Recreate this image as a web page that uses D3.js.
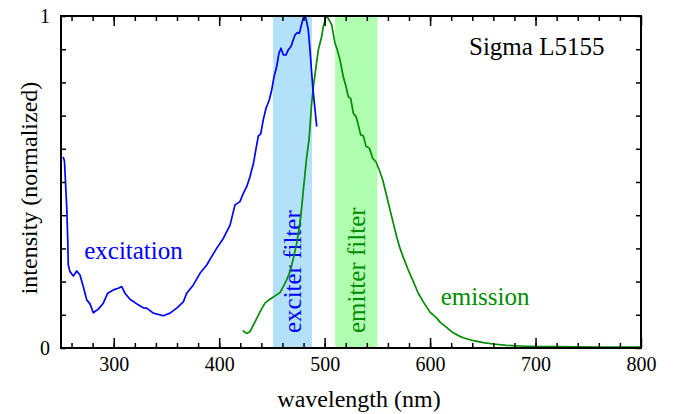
<!DOCTYPE html>
<html>
<head>
<meta charset="utf-8">
<script src="https://cdn.jsdelivr.net/npm/d3@7"></script>
<style>
  html, body { margin: 0; padding: 0; background: #fff; }
  svg { display: block; }
  text { font-family: "Liberation Serif", "Times New Roman", serif; }
</style>
</head>
<body>
<svg id="chart" width="673" height="414"></svg>
<script>
// Excitation spectrum (blue)
const excitationNm = [251.5, 252.5, 253.3, 255.4, 256.4, 256.9, 258.5, 261.7, 264.9, 268.0,
  271.1, 274.4, 277.5, 280.6, 285.4, 290.1, 294.3, 299.6, 304.3, 307.6, 310.7, 315.4,
  323.3, 328.0, 331.3, 337.5, 347.0, 353.4, 359.7, 366.0, 369.2, 375.5, 381.8, 388.2,
  391.3, 397.6, 403.9, 410.3, 415.0, 419.7, 422.9, 426.1, 429.2, 430.8, 432.5, 434.9,
  437.1, 439.4, 441.8, 444.4, 447.5, 449.8, 452.0, 454.5, 456.7, 458.6, 460.8, 463.4,
  465.5, 468.1, 469.7, 471.9, 474.1, 476.0, 477.6, 479.2, 480.4, 482.3, 484.5, 486.1,
  488.7, 490.9, 492.5];
const excitationVal = [0.575, 0.572, 0.562, 0.426, 0.325, 0.250, 0.230, 0.217, 0.232, 0.220,
  0.185, 0.145, 0.133, 0.106, 0.117, 0.135, 0.165, 0.175, 0.180, 0.185, 0.165, 0.147,
  0.130, 0.121, 0.120, 0.105, 0.097, 0.105, 0.120, 0.139, 0.165, 0.190, 0.225, 0.250,
  0.267, 0.300, 0.330, 0.370, 0.431, 0.441, 0.466, 0.486, 0.516, 0.536, 0.556, 0.600,
  0.638, 0.645, 0.687, 0.722, 0.747, 0.777, 0.817, 0.847, 0.888, 0.903, 0.883, 0.883,
  0.898, 0.908, 0.923, 0.943, 0.950, 0.948, 0.968, 0.988, 1.000, 0.993, 0.958, 0.898,
  0.787, 0.717, 0.667];

// Emission spectrum (green)
const emissionNm = [422.3, 426.1, 429.2, 434.0, 438.7, 443.4, 448.2, 452.9, 457.7, 460.8,
  464.0, 467.2, 470.3, 473.5, 476.6, 478.3, 479.8, 481.4, 483.0, 485.2, 486.1, 487.7,
  489.3, 491.8, 494.0, 495.6, 497.2, 498.7, 499.7, 501.3, 503.5, 506.7, 509.8, 512.0,
  514.6, 517.7, 520.3, 522.4, 524.7, 527.2, 529.8, 531.9, 534.2, 536.7, 539.2, 542.4,
  545.6, 548.7, 551.8, 555.1, 558.2, 562.0, 565.1, 568.3, 571.5, 574.6, 579.3, 584.1,
  588.8, 593.6, 599.9, 606.3, 609.4, 615.7, 618.9, 622.0, 628.4, 631.5, 641.0, 650.5,
  659.9, 672.6, 685.3, 701.1, 720.0, 760.0, 800.0];
const emissionVal = [0.052, 0.044, 0.049, 0.079, 0.109, 0.135, 0.147, 0.157, 0.167, 0.185,
  0.205, 0.230, 0.270, 0.315, 0.376, 0.426, 0.476, 0.526, 0.576, 0.627, 0.667, 0.737,
  0.787, 0.847, 0.898, 0.918, 0.938, 0.968, 0.978, 1.000, 0.993, 0.973, 0.918, 0.898,
  0.867, 0.817, 0.787, 0.757, 0.752, 0.707, 0.697, 0.672, 0.642, 0.639, 0.608, 0.602,
  0.571, 0.561, 0.536, 0.506, 0.466, 0.416, 0.376, 0.335, 0.300, 0.273, 0.235, 0.200,
  0.165, 0.139, 0.108, 0.090, 0.078, 0.062, 0.053, 0.046, 0.035, 0.031, 0.022, 0.016,
  0.012, 0.008, 0.006, 0.004, 0.004, 0.003, 0.003];

// Filter pass bands (nm)
const exciterBand = [451, 488];
const emitterBand = [510, 550];

// Axis ticks
const xMajorTicks = [300, 400, 500, 600, 700, 800];
const xMinorTicks = d3.range(260, 800, 20);
const yMinorTicks = d3.range(0, 1.0001, 0.1);
const yLabelTicks = [0, 1];

const BLUE = "#0000ff";
const GREEN = "#008c00";

const svg = d3.select("#chart");
const L = 61, R = 641, T = 16, B = 348;

const x = d3.scaleLinear().domain([250, 800]).range([L, R]);
const y = d3.scaleLinear().domain([0, 1]).range([B, T]);

// filter bands
const bands = [
  { range: exciterBand, fill: "#b4e1fa" },
  { range: emitterBand, fill: "#b0ffb0" }
];
svg.selectAll("rect.band").data(bands).join("rect")
  .attr("class", "band")
  .attr("x", d => x(d.range[0]))
  .attr("width", d => x(d.range[1]) - x(d.range[0]))
  .attr("y", T)
  .attr("height", B - T)
  .attr("fill", d => d.fill);

// band labels
const bandLabels = [
  { text: "exciter filter", nm: 477.5, color: BLUE },
  { text: "emitter filter", nm: 538.5, color: GREEN }
];
svg.selectAll("text.bandlabel").data(bandLabels).join("text")
  .attr("class", "bandlabel")
  .attr("transform", d => `translate(${x(d.nm)},${y(0.045)}) rotate(-90)`)
  .attr("font-size", 25)
  .attr("fill", d => d.color)
  .text(d => d.text);

// spectra
const line = d3.line().x(d => x(d[0])).y(d => y(d[1]));
const excitation = excitationNm.map((n, i) => [n, excitationVal[i]]);
const emission = emissionNm.map((n, i) => [n, emissionVal[i]]);

svg.append("path").datum(emission)
  .attr("d", line).attr("fill", "none")
  .attr("stroke", GREEN).attr("stroke-width", 1.7)
  .attr("stroke-linejoin", "round");
svg.append("path").datum(excitation)
  .attr("d", line).attr("fill", "none")
  .attr("stroke", BLUE).attr("stroke-width", 1.7)
  .attr("stroke-linejoin", "round");

// curve labels
svg.append("text").attr("x", x(272)).attr("y", 259)
  .attr("font-size", 25).attr("fill", BLUE).text("excitation");
svg.append("text").attr("x", x(610)).attr("y", 305)
  .attr("font-size", 25).attr("fill", GREEN).text("emission");
svg.append("text").attr("x", 469).attr("y", 55)
  .attr("font-size", 25).attr("fill", "#000").text("Sigma L5155");

// axes: ticks point inward on all four sides
function styleAxis(g) {
  g.select(".domain").remove();
  g.selectAll(".tick line").attr("stroke", "#000").attr("stroke-width", 1.5);
  g.selectAll(".tick text").attr("font-family", "Liberation Serif, serif")
    .attr("font-size", 20).attr("fill", "#000");
}
const fmtNone = () => "";

svg.append("g").attr("transform", `translate(0,${B})`)
  .call(d3.axisBottom(x).tickValues(xMinorTicks).tickSize(-5).tickFormat(fmtNone))
  .call(styleAxis);
svg.append("g").attr("transform", `translate(0,${B})`)
  .call(d3.axisBottom(x).tickValues(xMajorTicks).tickSize(-10).tickPadding(9).tickFormat(d3.format("d")))
  .call(styleAxis);
svg.append("g").attr("transform", `translate(0,${T})`)
  .call(d3.axisTop(x).tickValues(xMinorTicks).tickSize(-5).tickFormat(fmtNone))
  .call(styleAxis);
svg.append("g").attr("transform", `translate(0,${T})`)
  .call(d3.axisTop(x).tickValues(xMajorTicks).tickSize(-10).tickFormat(fmtNone))
  .call(styleAxis);
svg.append("g").attr("transform", `translate(${L},0)`)
  .call(d3.axisLeft(y).tickValues(yMinorTicks).tickSize(-5).tickFormat(fmtNone))
  .call(styleAxis);
svg.append("g").attr("transform", `translate(${L},0)`)
  .call(d3.axisLeft(y).tickValues(yLabelTicks).tickSize(0).tickPadding(11).tickFormat(d3.format("d")))
  .call(styleAxis);
svg.append("g").attr("transform", `translate(${R},0)`)
  .call(d3.axisRight(y).tickValues(yMinorTicks).tickSize(-5).tickFormat(fmtNone))
  .call(styleAxis);

// frame
svg.append("rect").attr("x", L).attr("y", T)
  .attr("width", R - L).attr("height", B - T)
  .attr("fill", "none").attr("stroke", "#000").attr("stroke-width", 2);

// axis titles
svg.append("text").attr("x", (L + R) / 2 + 8).attr("y", 407)
  .attr("text-anchor", "middle").attr("font-size", 24).text("wavelength (nm)");
svg.append("text")
  .attr("transform", `translate(37,${(T + B) / 2 + 6}) rotate(-90)`)
  .attr("text-anchor", "middle").attr("font-size", 24).text("intensity (normalized)");
</script>
</body>
</html>
